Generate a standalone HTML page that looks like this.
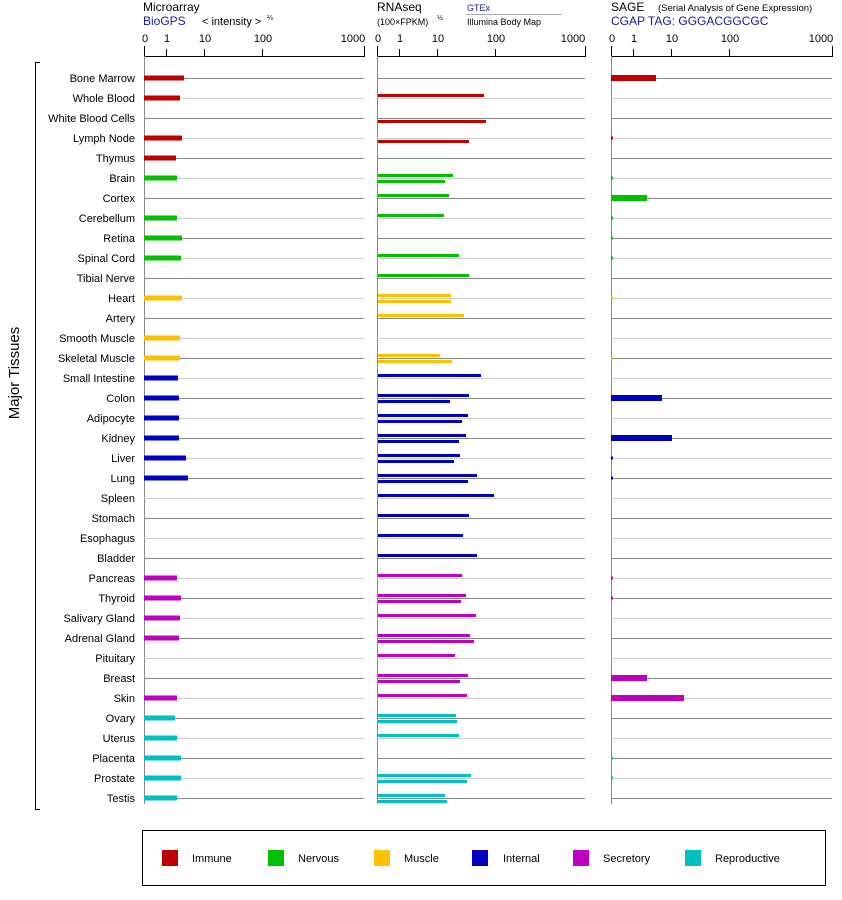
<!DOCTYPE html><html><head><style>body{margin:0;background:#fff}svg{display:block;font-family:"Liberation Sans",sans-serif}</style></head><body>
<svg width="842" height="900" viewBox="0 0 842 900" xmlns="http://www.w3.org/2000/svg">
<g font-size="12" fill="#000">
<text x="143" y="11">Microarray</text>
<text x="143" y="25" fill="#1a1aa0">BioGPS</text>
<text x="202" y="25" font-size="11">&lt; intensity &gt;</text><text x="267" y="20" font-size="7">⅔</text>
<text x="377" y="11">RNAseq</text>
<text x="377" y="25" font-size="9">(100×FPKM)</text><text x="437" y="20" font-size="7">½</text>
<text x="467" y="11" font-size="9" fill="#1a1aa0">GTEx</text>
<line x1="466" y1="14.5" x2="562" y2="14.5" stroke="#aaa"/>
<text x="467" y="25" font-size="9">Illumina Body Map</text>
<text x="611" y="11">SAGE</text><text x="658" y="11" font-size="9.5">(Serial Analysis of Gene Expression)</text>
<text x="611" y="25" fill="#1a1aa0">CGAP TAG: GGGACGGCGC</text>
</g>
<g font-size="11" text-anchor="middle">
<text x="145" y="42">0</text><text x="167" y="42">1</text><text x="205" y="42">10</text><text x="263" y="42">100</text><text x="353" y="42">1000</text>
<text x="378" y="42">0</text><text x="400" y="42">1</text><text x="438" y="42">10</text><text x="496" y="42">100</text><text x="573" y="42">1000</text>
<text x="612" y="42">0</text><text x="634" y="42">1</text><text x="672" y="42">10</text><text x="730" y="42">100</text><text x="821" y="42">1000</text>
</g>
<g stroke="#000" stroke-width="1" fill="none">
<path d="M144.5 46V56.5H364.5V46M166.5 49V56M204.5 49V56M262.5 49V56"/>
<path d="M377.5 46V56.5H585.5V46M399.5 49V56M437.5 49V56M495.5 49V56"/>
<path d="M611.5 46V56.5H832.5V46M633.5 49V56M671.5 49V56M729.5 49V56"/>
<path d="M40 62.5H35.5V809.5H40"/>
</g>
<text transform="translate(19,373) rotate(-90)" text-anchor="middle" font-size="15">Major Tissues</text>
<g stroke="#888" stroke-width="1"><line x1="144.5" y1="56" x2="144.5" y2="804"/><line x1="377.5" y1="56" x2="377.5" y2="804"/><line x1="611.5" y1="56" x2="611.5" y2="804"/></g>
<g stroke-width="1">
<g stroke="#888"><path d="M144 78.5H364M377 78.5H585M611 78.5H832M144 118.5H364M377 118.5H585M611 118.5H832M144 158.5H364M377 158.5H585M611 158.5H832M144 198.5H364M377 198.5H585M611 198.5H832M144 238.5H364M377 238.5H585M611 238.5H832M144 278.5H364M377 278.5H585M611 278.5H832M144 318.5H364M377 318.5H585M611 318.5H832M144 358.5H364M377 358.5H585M611 358.5H832M144 398.5H364M377 398.5H585M611 398.5H832M144 438.5H364M377 438.5H585M611 438.5H832M144 478.5H364M377 478.5H585M611 478.5H832M144 518.5H364M377 518.5H585M611 518.5H832M144 558.5H364M377 558.5H585M611 558.5H832M144 598.5H364M377 598.5H585M611 598.5H832M144 638.5H364M377 638.5H585M611 638.5H832M144 678.5H364M377 678.5H585M611 678.5H832M144 718.5H364M377 718.5H585M611 718.5H832M144 758.5H364M377 758.5H585M611 758.5H832M144 798.5H364M377 798.5H585M611 798.5H832"/></g>
<g stroke="#ccc"><path d="M144 98.5H364M377 98.5H585M611 98.5H832M144 138.5H364M377 138.5H585M611 138.5H832M144 178.5H364M377 178.5H585M611 178.5H832M144 218.5H364M377 218.5H585M611 218.5H832M144 258.5H364M377 258.5H585M611 258.5H832M144 298.5H364M377 298.5H585M611 298.5H832M144 338.5H364M377 338.5H585M611 338.5H832M144 378.5H364M377 378.5H585M611 378.5H832M144 418.5H364M377 418.5H585M611 418.5H832M144 458.5H364M377 458.5H585M611 458.5H832M144 498.5H364M377 498.5H585M611 498.5H832M144 538.5H364M377 538.5H585M611 538.5H832M144 578.5H364M377 578.5H585M611 578.5H832M144 618.5H364M377 618.5H585M611 618.5H832M144 658.5H364M377 658.5H585M611 658.5H832M144 698.5H364M377 698.5H585M611 698.5H832M144 738.5H364M377 738.5H585M611 738.5H832M144 778.5H364M377 778.5H585M611 778.5H832"/></g>
</g>
<g font-size="11" text-anchor="end">
<text x="135" y="82">Bone Marrow</text><text x="135" y="102">Whole Blood</text><text x="135" y="122">White Blood Cells</text><text x="135" y="142">Lymph Node</text><text x="135" y="162">Thymus</text><text x="135" y="182">Brain</text><text x="135" y="202">Cortex</text><text x="135" y="222">Cerebellum</text><text x="135" y="242">Retina</text><text x="135" y="262">Spinal Cord</text><text x="135" y="282">Tibial Nerve</text><text x="135" y="302">Heart</text><text x="135" y="322">Artery</text><text x="135" y="342">Smooth Muscle</text><text x="135" y="362">Skeletal Muscle</text><text x="135" y="382">Small Intestine</text><text x="135" y="402">Colon</text><text x="135" y="422">Adipocyte</text><text x="135" y="442">Kidney</text><text x="135" y="462">Liver</text><text x="135" y="482">Lung</text><text x="135" y="502">Spleen</text><text x="135" y="522">Stomach</text><text x="135" y="542">Esophagus</text><text x="135" y="562">Bladder</text><text x="135" y="582">Pancreas</text><text x="135" y="602">Thyroid</text><text x="135" y="622">Salivary Gland</text><text x="135" y="642">Adrenal Gland</text><text x="135" y="662">Pituitary</text><text x="135" y="682">Breast</text><text x="135" y="702">Skin</text><text x="135" y="722">Ovary</text><text x="135" y="742">Uterus</text><text x="135" y="762">Placenta</text><text x="135" y="782">Prostate</text><text x="135" y="802">Testis</text>
</g>
<!-- microarray bars -->
<g>
<g fill="#c00000"><rect x="144" y="75.5" width="40" height="5"/><rect x="144" y="95.5" width="36" height="5"/><rect x="144" y="135.5" width="38" height="5"/><rect x="144" y="155.5" width="32" height="5"/></g>
<g fill="#00c000"><rect x="144" y="175.5" width="33" height="5"/><rect x="144" y="215.5" width="33" height="5"/><rect x="144" y="235.5" width="38" height="5"/><rect x="144" y="255.5" width="37" height="5"/></g>
<g fill="#ffc000"><rect x="144" y="295.5" width="38" height="5"/><rect x="144" y="335.5" width="36" height="5"/><rect x="144" y="355.5" width="36" height="5"/></g>
<g fill="#0000c0"><rect x="144" y="375.5" width="34" height="5"/><rect x="144" y="395.5" width="35" height="5"/><rect x="144" y="415.5" width="35" height="5"/><rect x="144" y="435.5" width="35" height="5"/><rect x="144" y="455.5" width="42" height="5"/><rect x="144" y="475.5" width="44" height="5"/></g>
<g fill="#c000c0"><rect x="144" y="575.5" width="33" height="5"/><rect x="144" y="595.5" width="37" height="5"/><rect x="144" y="615.5" width="36" height="5"/><rect x="144" y="635.5" width="35" height="5"/><rect x="144" y="695.5" width="33" height="5"/></g>
<g fill="#00c0c0"><rect x="144" y="715.5" width="31" height="5"/><rect x="144" y="735.5" width="33" height="5"/><rect x="144" y="755.5" width="37" height="5"/><rect x="144" y="775.5" width="37" height="5"/><rect x="144" y="795.5" width="33" height="5"/></g>
</g>
<!-- RNAseq bars -->
<g>
<g fill="#c00000"><rect x="378" y="94" width="106" height="3"/><rect x="378" y="120" width="108" height="3"/><rect x="378" y="140" width="91" height="3"/></g>
<g fill="#00c000"><rect x="378" y="174" width="75" height="3"/><rect x="378" y="180" width="67" height="3"/><rect x="378" y="194" width="71" height="3"/><rect x="378" y="214" width="66" height="3"/><rect x="378" y="254" width="81" height="3"/><rect x="378" y="274" width="91" height="3"/></g>
<g fill="#ffc000"><rect x="378" y="294" width="73" height="3"/><rect x="378" y="300" width="73" height="3"/><rect x="378" y="314" width="86" height="3"/><rect x="378" y="354" width="62" height="3"/><rect x="378" y="360" width="74" height="3"/></g>
<g fill="#0000c0"><rect x="378" y="374" width="103" height="3"/><rect x="378" y="394" width="91" height="3"/><rect x="378" y="400" width="72" height="3"/><rect x="378" y="414" width="90" height="3"/><rect x="378" y="420" width="84" height="3"/><rect x="378" y="434" width="88" height="3"/><rect x="378" y="440" width="81" height="3"/><rect x="378" y="454" width="82" height="3"/><rect x="378" y="460" width="76" height="3"/><rect x="378" y="474" width="99" height="3"/><rect x="378" y="480" width="90" height="3"/><rect x="378" y="494" width="116" height="3"/><rect x="378" y="514" width="91" height="3"/><rect x="378" y="534" width="85" height="3"/><rect x="378" y="554" width="99" height="3"/></g>
<g fill="#c000c0"><rect x="378" y="574" width="84" height="3"/><rect x="378" y="594" width="88" height="3"/><rect x="378" y="600" width="83" height="3"/><rect x="378" y="614" width="98" height="3"/><rect x="378" y="634" width="92" height="3"/><rect x="378" y="640" width="96" height="3"/><rect x="378" y="654" width="77" height="3"/><rect x="378" y="674" width="90" height="3"/><rect x="378" y="680" width="82" height="3"/><rect x="378" y="694" width="89" height="3"/></g>
<g fill="#00c0c0"><rect x="378" y="714" width="78" height="3"/><rect x="378" y="720" width="79" height="3"/><rect x="378" y="734" width="81" height="3"/><rect x="378" y="774" width="93" height="3"/><rect x="378" y="780" width="89" height="3"/><rect x="378" y="794" width="67" height="3"/><rect x="378" y="800" width="69" height="3"/></g>
</g>
<!-- SAGE bars -->
<g>
<g fill="#c00000"><rect x="611" y="75" width="45" height="6"/><rect x="611" y="136.5" width="2" height="3"/></g>
<g fill="#00c000"><rect x="611" y="176.5" width="2" height="3"/><rect x="611" y="195" width="36" height="6"/><rect x="611" y="216.5" width="2" height="3"/><rect x="611" y="236.5" width="2" height="3"/><rect x="611" y="256.5" width="2" height="3"/></g>
<g fill="#ffc000"><rect x="611" y="296.5" width="2" height="3"/><rect x="611" y="356.5" width="2" height="3"/></g>
<g fill="#0000c0"><rect x="611" y="395" width="51" height="6"/><rect x="611" y="435" width="61" height="6"/><rect x="611" y="456.5" width="2" height="3"/><rect x="611" y="476.5" width="2" height="3"/></g>
<g fill="#c000c0"><rect x="611" y="576.5" width="2" height="3"/><rect x="611" y="596.5" width="2" height="3"/><rect x="611" y="675" width="36" height="6"/><rect x="611" y="695" width="73" height="6"/></g>
<g fill="#00c0c0"><rect x="611" y="756.5" width="2" height="3"/><rect x="611" y="776.5" width="2" height="3"/></g>
</g>
<!-- legend -->
<rect x="142.5" y="830.5" width="683" height="55" fill="none" stroke="#000"/>
<g font-size="11">
<rect x="162" y="850" width="16" height="16" fill="#c00000"/><text x="192" y="862">Immune</text>
<rect x="268" y="850" width="16" height="16" fill="#00c000"/><text x="298" y="862">Nervous</text>
<rect x="374" y="850" width="16" height="16" fill="#ffc000"/><text x="404" y="862">Muscle</text>
<rect x="472" y="850" width="16" height="16" fill="#0000c0"/><text x="503" y="862">Internal</text>
<rect x="573" y="850" width="16" height="16" fill="#c000c0"/><text x="603" y="862">Secretory</text>
<rect x="685" y="850" width="16" height="16" fill="#00c0c0"/><text x="715" y="862">Reproductive</text>
</g>
</svg>
</body></html>
